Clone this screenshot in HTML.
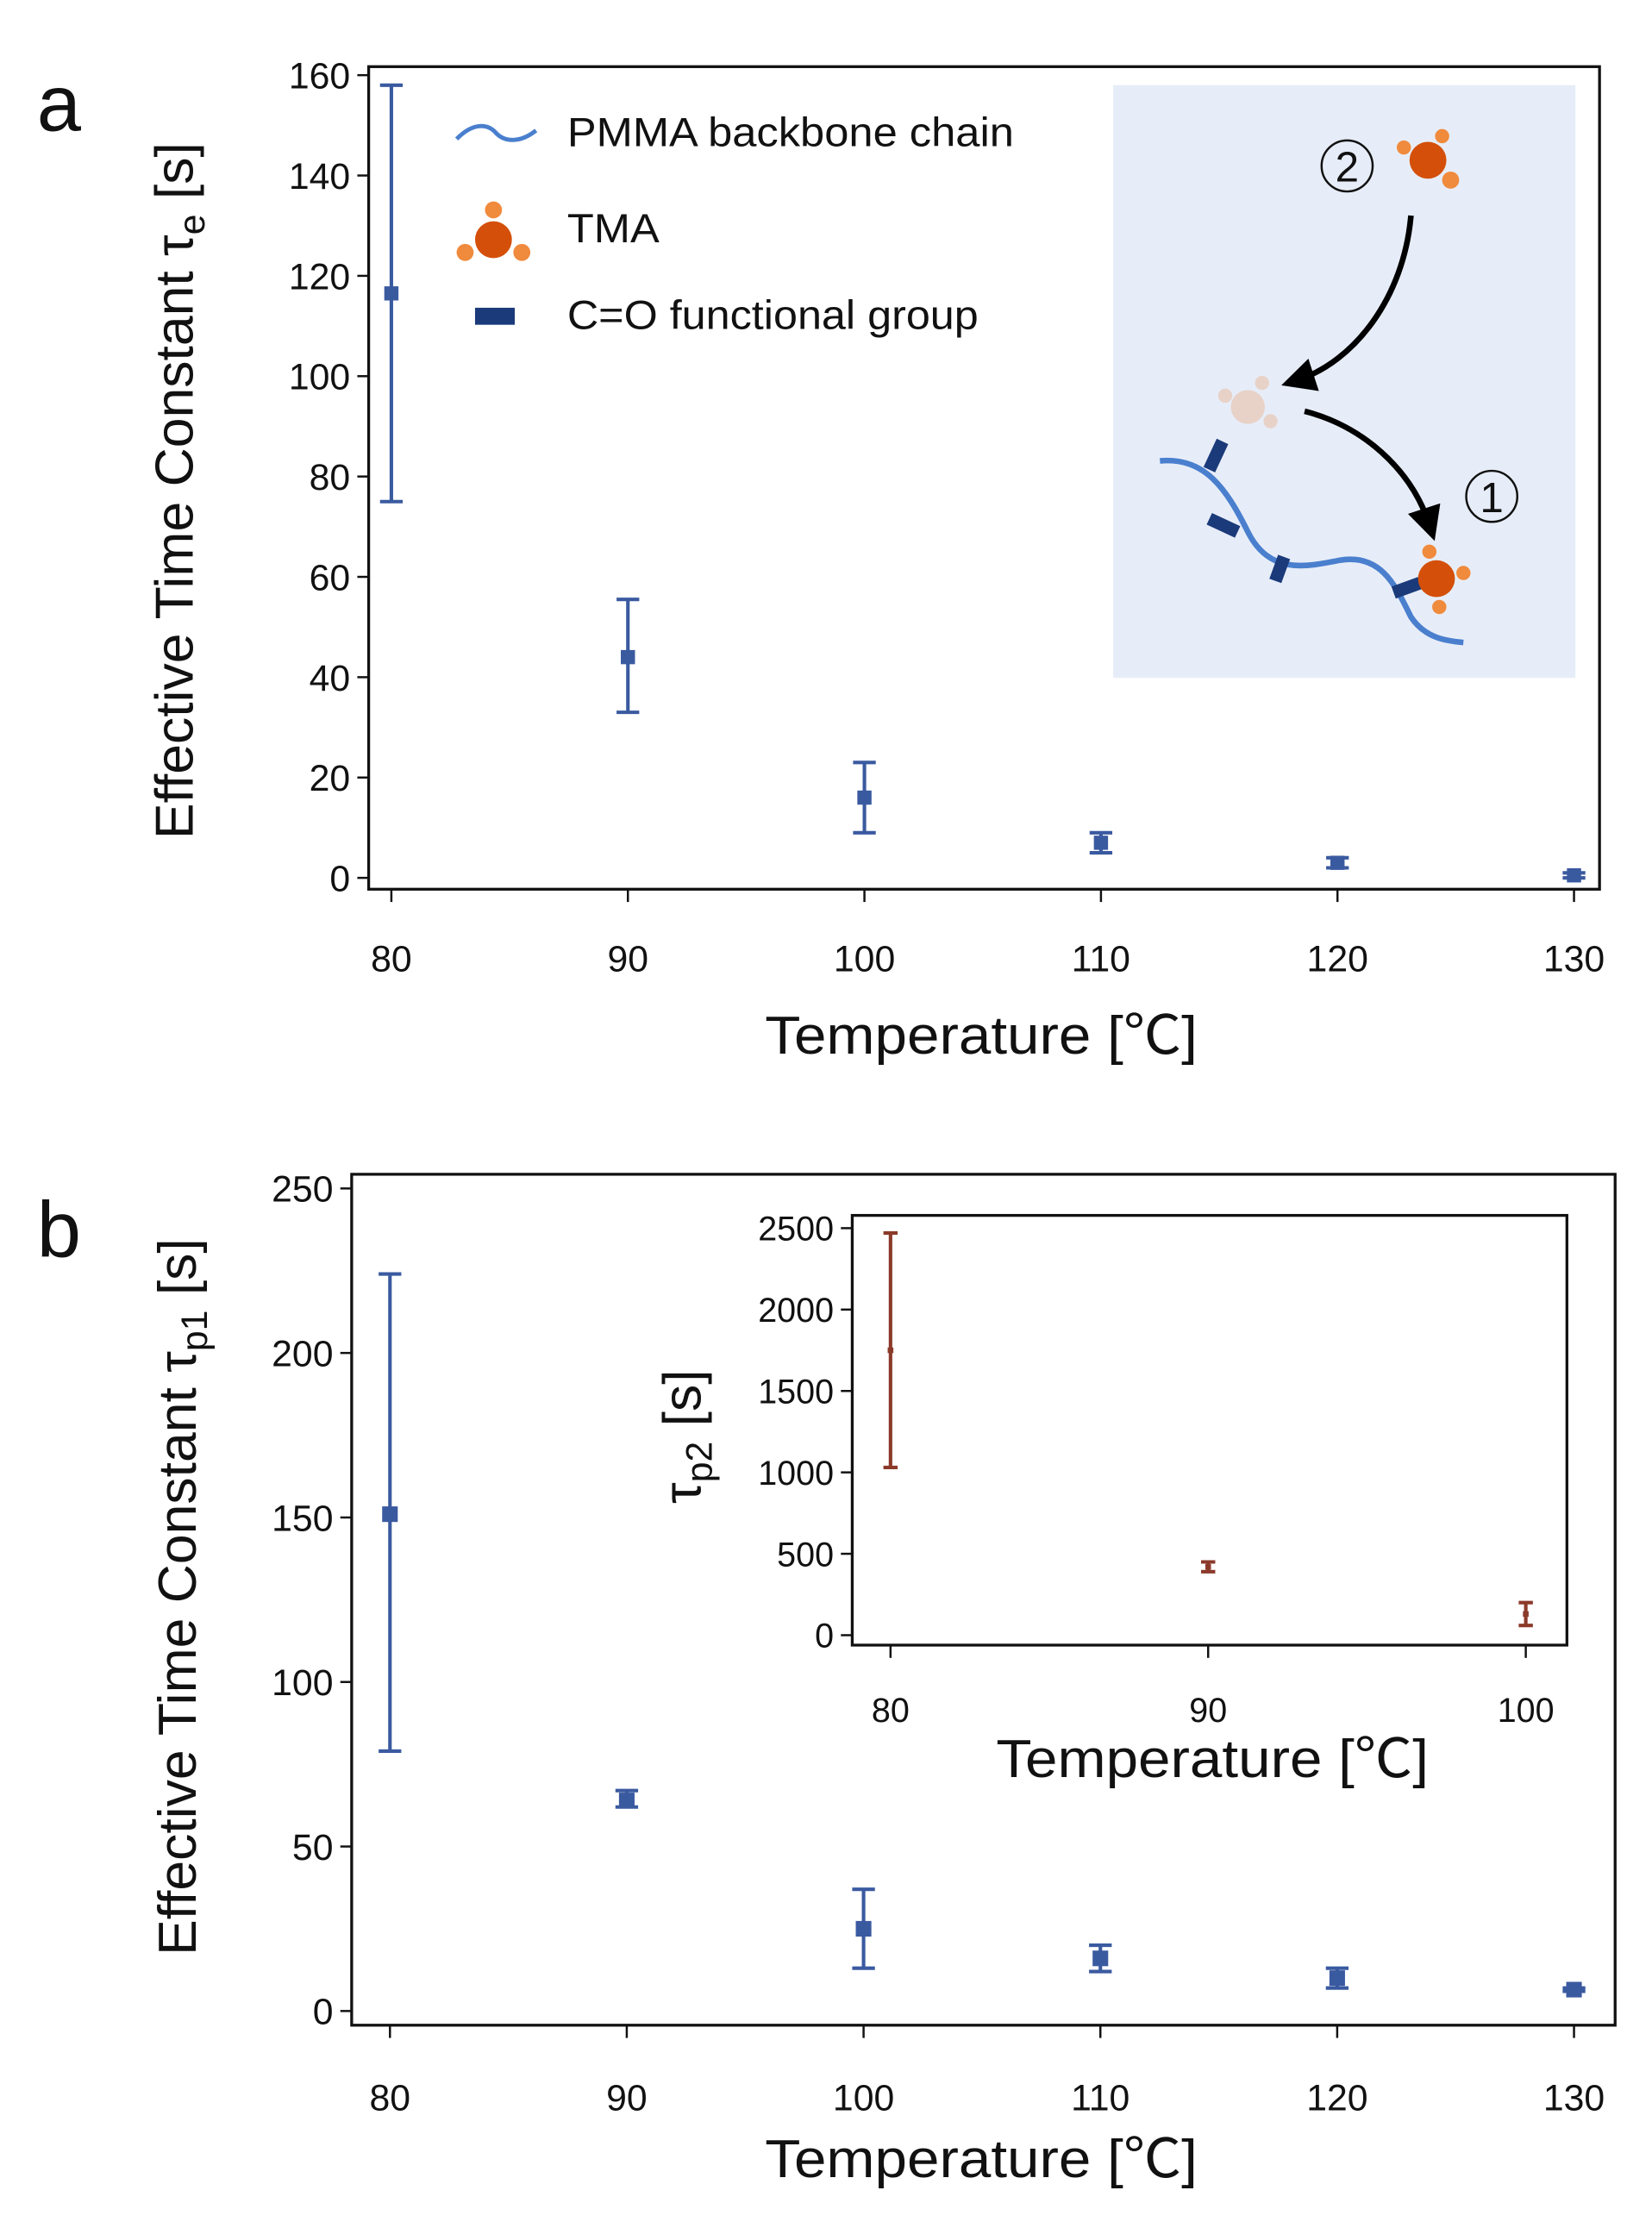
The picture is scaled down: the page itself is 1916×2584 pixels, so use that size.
<!DOCTYPE html>
<html><head><meta charset="utf-8"><style>
html,body{margin:0;padding:0;background:#fff;}
svg{display:block;}
text{font-family:"Liberation Sans","Noto Sans CJK SC",sans-serif;fill:#111;}
</style></head><body>
<svg id="fig" width="1916" height="2584" viewBox="0 0 1165 1571" preserveAspectRatio="none" xmlns="http://www.w3.org/2000/svg">
<text x="26" y="92" font-size="56">a</text>
<text x="26" y="886" font-size="56">b</text>
<g id="ga"></g>
<g id="gb"></g>
<g id="gc"></g>
<g id="illus">
  <rect x="785" y="60" width="326" height="418" fill="#e7edf8"/>
  <path d="M818,325 C850,322 865,345 880,375 C895,405 920,400 945,395 C975,390 985,415 995,435 C1005,450 1020,452 1032,453" fill="none" stroke="#4a7fce" stroke-width="4"/>
  <g fill="#1b3a7a">
    <rect x="853" y="310" width="9" height="22" transform="rotate(25 857 321)"/>
    <rect x="852" y="366" width="22" height="9" transform="rotate(25 863 370)"/>
    <rect x="898" y="392" width="9" height="18" transform="rotate(20 902 401)"/>
    <rect x="982" y="410" width="20" height="9" transform="rotate(-20 992 414)"/>
  </g>
  <g fill="#e8d2c8">
    <circle cx="880" cy="287" r="12"/><circle cx="890" cy="270" r="5"/><circle cx="864" cy="279" r="5"/><circle cx="896" cy="297" r="5"/>
  </g>
  <g>
    <circle cx="1007" cy="113" r="13" fill="#d4500a"/><circle cx="1017" cy="96" r="5" fill="#f08a3c"/><circle cx="990" cy="104" r="5" fill="#f08a3c"/><circle cx="1023" cy="127" r="6" fill="#f08a3c"/>
  </g>
  <g>
    <circle cx="1013" cy="408" r="13" fill="#d4500a"/><circle cx="1008" cy="389" r="5" fill="#f08a3c"/><circle cx="1032" cy="404" r="5" fill="#f08a3c"/><circle cx="1015" cy="428" r="5" fill="#f08a3c"/>
  </g>
  <defs><marker id="ah" markerWidth="6" markerHeight="6" refX="3" refY="3" orient="auto"><path d="M0,0 L6,3 L0,6 z" fill="#000"/></marker></defs>
  <path d="M995,152 C990,210 955,255 915,268" fill="none" stroke="#000" stroke-width="4" marker-end="url(#ah)"/>
  <path d="M920,290 C960,300 995,330 1008,370" fill="none" stroke="#000" stroke-width="4" marker-end="url(#ah)"/>
  <circle cx="950" cy="117" r="18" fill="none" stroke="#111" stroke-width="1.5"/>
  <text x="950" y="128" font-size="30" text-anchor="middle">2</text>
  <circle cx="1052" cy="350" r="18" fill="none" stroke="#111" stroke-width="1.5"/>
  <text x="1052" y="361" font-size="30" text-anchor="middle">1</text>
</g>
<g>
  <path d="M322,98 C335,85 345,88 350,94 C357,101 368,100 378,92" fill="none" stroke="#4a7fce" stroke-width="3"/>
  <text x="400" y="103" font-size="29" textLength="315" lengthAdjust="spacingAndGlyphs">PMMA backbone chain</text>
  <circle cx="348" cy="169" r="13" fill="#d4500a"/><circle cx="348" cy="148" r="6" fill="#f08a3c"/><circle cx="328" cy="178" r="6" fill="#f08a3c"/><circle cx="368" cy="178" r="6" fill="#f08a3c"/>
  <text x="400" y="171" font-size="29" textLength="65" lengthAdjust="spacingAndGlyphs">TMA</text>
  <rect x="335" y="217" width="28" height="12" fill="#1b3a7a"/>
  <text x="400" y="232" font-size="29" textLength="290" lengthAdjust="spacingAndGlyphs">C=O functional group</text>
</g>
</svg>
<script>
const NS='http://www.w3.org/2000/svg';
// Panel a data
const catsA=[80,90,100,110,120,130];
const valsA=[116.5,44,16,7,3,0.5];
const loA=[75,33,9,5,2,0];
const hiA=[158,55.5,23,9,4,1];
const yTicksA=[0,20,40,60,80,100,120,140,160];
// Panel b data
const catsB=[80,90,100,110,120,130];
const valsB=[151,64,25,16,10,6.5];
const loB=[79,62,13,12,7,6];
const hiB=[224,67,37,20,13,7];
const yTicksB=[0,50,100,150,200,250];
// Inset data
const catsC=[80,90,100];
const valsC=[1750,420,130];
const loC=[1030,390,60];
const hiC=[2470,450,200];
const yTicksC=[0,500,1000,1500,2000,2500];
const xTicksMain=[80,90,100,110,120,130];
const xTicksC=[80,90,100];

function el(g,tag,attrs,txt){const e=document.createElementNS(NS,tag);for(const k in attrs)e.setAttribute(k,attrs[k]);if(txt!==undefined)e.textContent=txt;g.appendChild(e);return e;}

function chart(cfg){
  const g=document.getElementById(cfg.id);
  const sx=v=>cfg.x0+(v-cfg.xmin)/(cfg.xmax-cfg.xmin)*(cfg.x1-cfg.x0);
  const sy=v=>cfg.y0+(v-cfg.ymin)/(cfg.ymax-cfg.ymin)*(cfg.y1-cfg.y0);
  const f=el(g,'rect',{x:cfg.L,y:cfg.T,width:cfg.R-cfg.L,height:cfg.B-cfg.T,fill:'none',stroke:'#111','stroke-width':2});
  
  
  cfg.yt.forEach(t=>{
    const y=sy(t);
    el(g,'line',{x1:cfg.L-8,x2:cfg.L,y1:y,y2:y,stroke:'#111','stroke-width':1.5});
    const tx=el(g,'text',{x:cfg.L-13,y:y+cfg.fs*0.36,'font-size':cfg.fs,'text-anchor':'end'},t);
    
    
  });
  cfg.xt.forEach(t=>{
    const x=sx(t);
    el(g,'line',{x1:x,x2:x,y1:cfg.B,y2:cfg.B+9,stroke:'#111','stroke-width':1.5});
    const tx=el(g,'text',{x:x,y:cfg.xly,'font-size':cfg.fs,'text-anchor':'middle'},t);
    
    
  });
  cfg.cats.forEach((c,i)=>{
    const x=sx(c),yl=sy(cfg.lo[i]),yh=sy(cfg.hi[i]),y=sy(cfg.vals[i]);
    const eg=el(g,'g',{stroke:cfg.col,'stroke-width':2.5});
    
    
    el(eg,'line',{x1:x,x2:x,y1:yl,y2:yh});
    el(eg,'line',{x1:x-cfg.cap,x2:x+cfg.cap,y1:yl,y2:yl});
    el(eg,'line',{x1:x-cfg.cap,x2:x+cfg.cap,y1:yh,y2:yh});
    const p=el(g,'rect',{x:x-cfg.ms/2,y:y-cfg.ms/2,width:cfg.ms,height:cfg.ms,fill:cfg.col});
    
    
  });
  const xt=el(g,'text',{x:cfg.xtx,y:cfg.xty,'font-size':cfg.tfs,'text-anchor':'middle',textLength:cfg.xtl,lengthAdjust:'spacingAndGlyphs'},'Temperature [℃]');
  
  
  const yt=el(g,'text',{transform:`translate(${cfg.ytx},${cfg.yty}) rotate(-90)`,'font-size':cfg.ytfs,'text-anchor':'middle'});
  
  
  yt.innerHTML=cfg.ytitle;
}
chart({id:'ga',L:260,T:47,R:1128,B:627,x0:276,x1:1110,xmin:80,xmax:130,y0:619,y1:53,ymin:0,ymax:160,
  xt:xTicksMain,yt:yTicksA,cats:catsA,vals:valsA,lo:loA,hi:hiA,col:'#3a5aa0',cap:8,ms:10,fs:26,xly:685,
  tfs:38,xtl:305,xtx:692,xty:743,ytfs:38,ytx:136,yty:346,ytitle:'Effective  Time  Constant   τ<tspan font-size="26" dy="8">e</tspan><tspan dy="-8">  [s]</tspan>'});
chart({id:'gb',L:248,T:828,R:1139,B:1428,x0:275,x1:1110,xmin:80,xmax:130,y0:1418,y1:838,ymin:0,ymax:250,
  xt:xTicksMain,yt:yTicksB,cats:catsB,vals:valsB,lo:loB,hi:hiB,col:'#3a5aa0',cap:8,ms:11,fs:26,xly:1488,
  tfs:38,xtl:305,xtx:692,xty:1535,ytfs:38,ytx:138,yty:1126,ytitle:'Effective  Time  Constant   τ<tspan font-size="26" dy="8">p1</tspan><tspan dy="-8">  [s]</tspan>'});
chart({id:'gc',L:601,T:857,R:1105,B:1160,x0:628,x1:1076,xmin:80,xmax:100,y0:1153,y1:866,ymin:0,ymax:2500,
  xt:xTicksC,yt:yTicksC,cats:catsC,vals:valsC,lo:loC,hi:hiC,col:'#8b3a2a',cap:5,ms:4,fs:24,xly:1214,
  tfs:38,xtl:305,xtx:855,xty:1253,ytfs:38,ytx:494,yty:1013,ytitle:'τ<tspan font-size="26" dy="8">p2</tspan><tspan dy="-8"> [s]</tspan>'});
</script>
</body></html>
